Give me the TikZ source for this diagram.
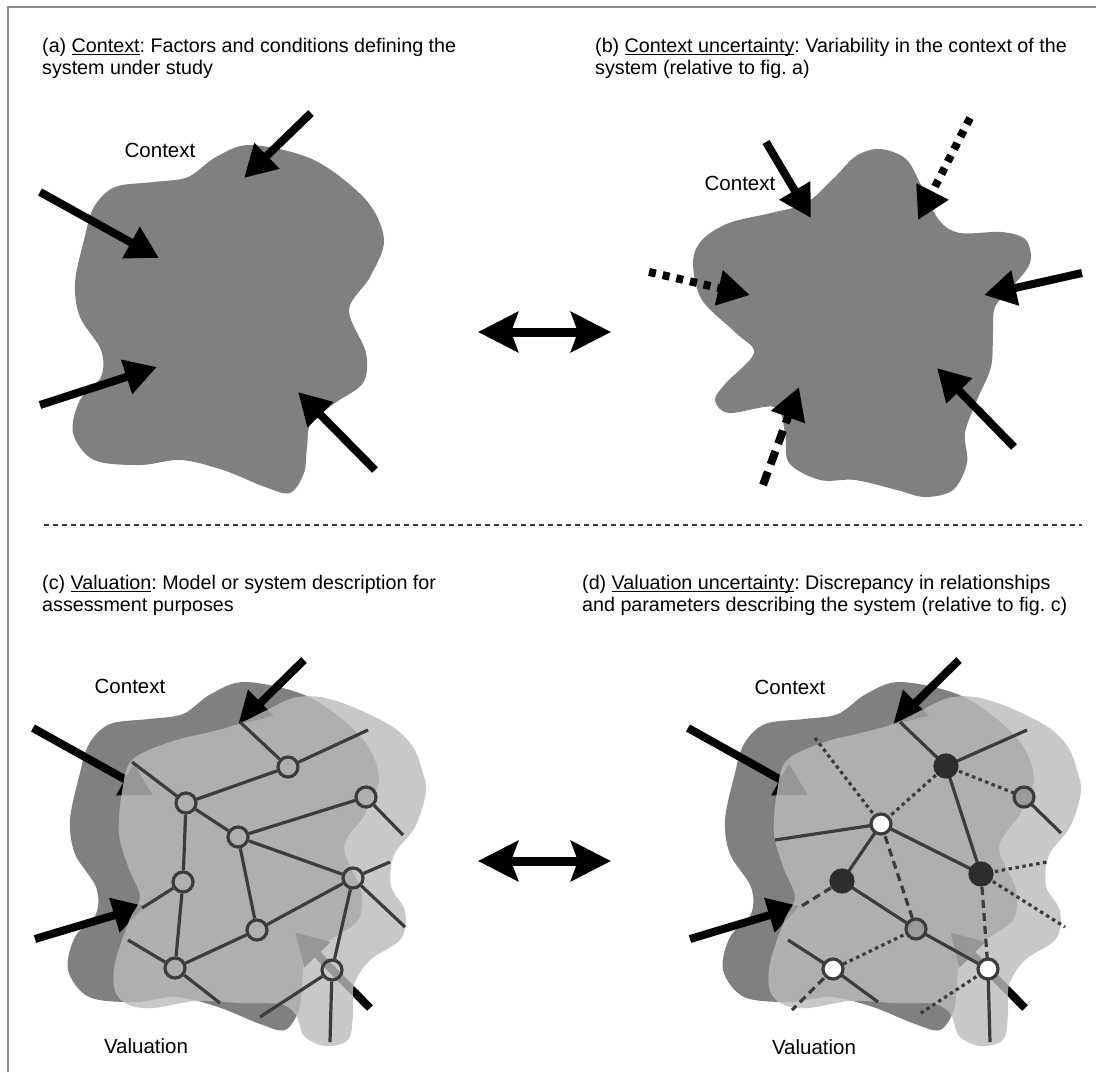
\documentclass[tikz,border=0pt]{standalone}
\usepackage{fontspec}
\setmainfont{Liberation Sans}
\usetikzlibrary{arrows.meta}
\frenchspacing
\definecolor{framegray}{RGB}{140,143,146}
\definecolor{ctxgray}{RGB}{128,128,128}
\definecolor{valgray}{RGB}{187,187,187}
\definecolor{netgray}{RGB}{60,60,60}
\definecolor{darkdot}{RGB}{45,45,45}
\definecolor{middot}{RGB}{155,155,155}

% blob outlines (pixel units, y down)
\newcommand{\ctxblob}{plot[smooth cycle, tension=0.55] coordinates {(251,145) (314,160) (366,200) (384,240) (370,277) (349,310) (366,353) (363,383) (335,403) (311,423) (307,447) (304,473) (290,493) (265,487) (223,470) (181,460) (140,465) (94,460) (73,433) (80,400) (101,377) (101,350) (80,317) (75,283) (84,240) (94,207) (115,187) (154,182) (188,177) (216,157)}}
\newcommand{\ctxblobb}{plot[smooth cycle, tension=0.55] coordinates {(880,149) (906,159) (922,187) (939,220) (960,233) (1002,232) (1026,240) (1030,263) (1012,287) (995,307) (993,333) (991,367) (977,400) (965,433) (967,463) (953,490) (925,497) (897,490) (855,480) (820,480) (789,463) (785,433) (775,407) (729,413) (715,400) (726,383) (754,353) (736,333) (702,300) (693,263) (702,240) (729,223) (771,213) (806,203) (834,178) (856,156)}}
\newcommand{\valblob}{plot[smooth cycle, tension=0.55] coordinates {(132,760) (170,742) (210,732) (238,724) (267,710) (293,698) (320,697) (353,707) (393,727) (413,747) (422,770) (426,792) (415,827) (394,855) (391,886) (405,911) (401,939) (370,960) (354,985) (353,1015) (348,1040) (325,1046) (304,1036) (296,1015) (280,1004) (240,1003) (195,1001) (154,1008) (129,1005) (115,991) (115,963) (129,921) (140,897) (129,869) (119,834) (122,792)}}

\begin{document}
\begin{tikzpicture}[x=1pt, y=-1pt,
  title/.style={anchor=north west, inner sep=0pt, align=left,
                font=\fontsize{19.7}{22.5}\selectfont},
  label/.style={inner sep=0pt, font=\fontsize{20.5}{22}\selectfont},
  ctx/.style={fill=ctxgray},
  val/.style={fill=valgray, fill opacity=0.81},
  push/.style={line width=8pt, -{Triangle[length=32pt, width=34pt]}},
  dotpush/.style={push, dash pattern=on 7pt off 7pt},
  dashpush/.style={push, dash pattern=on 14pt off 8pt},
  swap/.style={line width=9pt, {Stealth[length=40pt, width=40pt, inset=7pt]}-{Stealth[length=40pt, width=40pt, inset=7pt]}},
  edge/.style={draw=netgray, line width=3.2pt},
  dotedge/.style={edge, dash pattern=on 3.5pt off 3.5pt},
  dashedge/.style={edge, dash pattern=on 8pt off 5pt},
  vnode/.style={circle, draw=netgray, line width=3.2pt, minimum size=20pt, inner sep=0pt},
  hollow/.style={vnode, fill=white},
  filled/.style={vnode, draw=darkdot, fill=darkdot, minimum size=22pt},
  halfway/.style={vnode, fill=middot}
]
\useasboundingbox (0,0) rectangle (1096,1072);
\draw[framegray, line width=2pt] (8,1072) -- (8,7) -- (1096,7);
\draw[netgray, line width=1.3pt, dash pattern=on 5pt off 4pt] (44,525) -- (1082,525);

% (a)
\node[title] (tita) at (42,38) {(a) \underline{\smash{Context}}: Factors and conditions defining the\\system under study};
\fill[ctx] \ctxblob;
\node[label] (ctxa) at (160,150) {Context};
\draw[push] (311,113) -- (244,178);
\draw[push] (40,192) -- (159,258);
\draw[push] (40,405) -- (157,367);
\draw[push] (375,470) -- (298,392);

\draw[swap] (478,332) -- (611,332);

% (b)
\node[title] (titb) at (595,38) {(b) \underline{\smash{Context uncertainty}}: Variability in the context of the\\system (relative to fig. a)};
\fill[ctx] \ctxblobb;
\node[label] (ctxb) at (740,183) {Context};
\draw[push] (766,142) -- (811,218);
\draw[dotpush] (970,118) -- (918,220);
\draw[dotpush] (649,272) -- (750,295);
\draw[push] (1082,273) -- (984,295);
\draw[push] (1014,447) -- (937,368);
\draw[dashpush] (763,485) -- (799,387);

% (c)
\node[title] (titc) at (42,575) {(c) \underline{\smash{Valuation}}: Model or system description for\\assessment purposes};
\fill[ctx, shift={(-5,537)}] \ctxblob;
\node[label] (ctxc) at (130,686) {Context};
\draw[push] (304,660) -- (238,725);
\draw[push] (33,728) -- (153,795);
\draw[push] (35,939) -- (145,906);
\draw[push] (370,1008) -- (295,932);
\fill[val] \valblob;
\node[label] (valc) at (146,1046) {Valuation};

\node[vnode] (c1) at (288,767) {};
\node[vnode] (c2) at (186,803) {};
\node[vnode] (c3) at (238,837) {};
\node[vnode] (c4) at (366,797) {};
\node[vnode] (c5) at (183,882) {};
\node[vnode] (c6) at (353,878) {};
\node[vnode] (c7) at (257,930) {};
\node[vnode] (c8) at (175,968) {};
\node[vnode] (c9) at (332,970) {};
\coordinate (c1a) at (240,722); \coordinate (c1b) at (368,730);
\coordinate (c2a) at (132,762); \coordinate (c4a) at (403,835);
\coordinate (c5a) at (142,908); \coordinate (c6a) at (390,862);
\coordinate (c6b) at (405,927); \coordinate (c8a) at (128,940);
\coordinate (c8b) at (220,1003); \coordinate (c9a) at (260,1017);
\coordinate (c9b) at (330,1042);
\path[edge] (c1) -- (c1a) (c1) -- (c1b) (c1) -- (c2) (c2) -- (c2a)
  (c2) -- (c3) (c2) -- (c5) (c3) -- (c4) (c3) -- (c6) (c3) -- (c7)
  (c4) -- (c4a) (c5) -- (c5a) (c5) -- (c8) (c6) -- (c6a) (c6) -- (c6b)
  (c6) -- (c7) (c6) -- (c9) (c7) -- (c8) (c8) -- (c8a) (c8) -- (c8b)
  (c9) -- (c9a) (c9) -- (c9b);

\draw[swap] (478,861) -- (611,861);

% (d)
\node[title] (titd) at (582,575) {(d) \underline{\smash{Valuation uncertainty}}: Discrepancy in relationships\\and parameters describing the system (relative to fig. c)};
\fill[ctx, shift={(650,537)}] \ctxblob;
\node[label] (ctxd) at (790,687) {Context};
\draw[push] (959,660) -- (893,725);
\draw[push] (688,728) -- (808,795);
\draw[push] (690,939) -- (800,906);
\draw[push] (1025,1008) -- (950,932);
\fill[val, shift={(655,0)}] \valblob;
\node[label] (vald) at (814,1047) {Valuation};

\coordinate (d1a) at (900,722); \coordinate (d1b) at (1027,730);
\coordinate (d3a) at (775,840); \coordinate (d3b) at (815,738);
\coordinate (d2a) at (1061,833); \coordinate (d4a) at (800,907);
\coordinate (d5a) at (1047,862); \coordinate (d5b) at (1065,927);
\coordinate (d7a) at (788,940); \coordinate (d7b) at (878,1002);
\coordinate (d7c) at (792,1010); \coordinate (d8a) at (990,1042);
\coordinate (d8b) at (918,1015);
\path (946,766) coordinate (p1) (1024,797) coordinate (p2) (881,824) coordinate (p3)
  (842,881) coordinate (p4) (981,874) coordinate (p5) (916,929) coordinate (p6)
  (833,969) coordinate (p7) (988,969) coordinate (p8);
\path[edge] (p1) -- (d1a) (p1) -- (d1b) (p1) -- (p5) (p3) -- (d3a)
  (p3) -- (p5) (p3) -- (p4) (p4) -- (p6) (p6) -- (p8) (p2) -- (d2a)
  (p7) -- (d7a) (p7) -- (d7b) (p8) -- (d8a);
\path[dotedge] (p3) -- (d3b) (p3) -- (p1) (p1) -- (p2) (p5) -- (d5a)
  (p5) -- (d5b) (p6) -- (p7) (p8) -- (d8b);
\path[dashedge] (p3) -- (p6) (p5) -- (p8) (p4) -- (d4a) (p7) -- (d7c);
\node[filled] (d1) at (p1) {};
\node[halfway] (d2) at (p2) {};
\node[hollow] (d3) at (p3) {};
\node[filled] (d4) at (p4) {};
\node[filled] (d5) at (p5) {};
\node[halfway] (d6) at (p6) {};
\node[hollow] (d7) at (p7) {};
\node[hollow] (d8) at (p8) {};
\end{tikzpicture}
\end{document}
